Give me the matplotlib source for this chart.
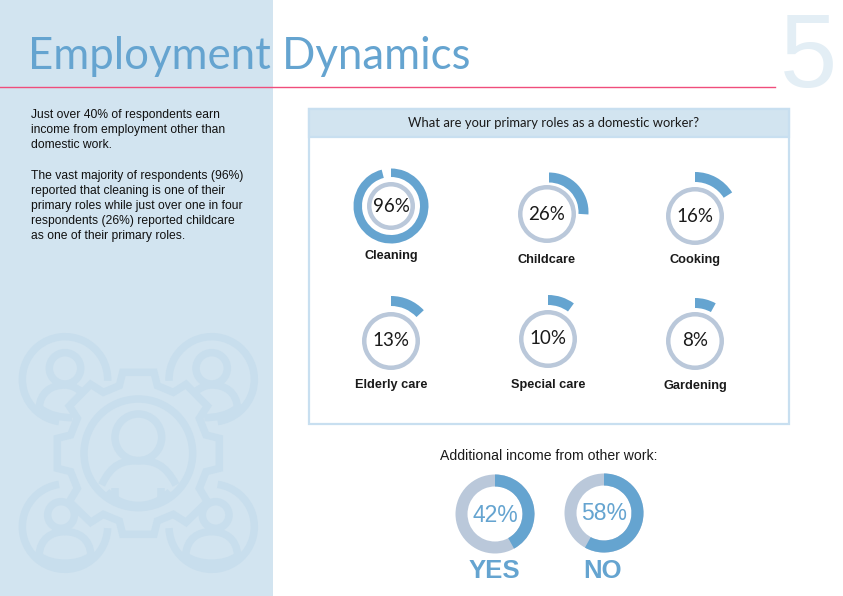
import matplotlib
matplotlib.use("Agg")
import matplotlib.pyplot as plt
from matplotlib.patches import Wedge, Rectangle, Circle, Arc, Polygon, PathPatch
from matplotlib.path import Path

role_labels = ["Cleaning", "Childcare", "Cooking", "Elderly care", "Special care", "Gardening"]
role_values = [96, 26, 16, 13, 10, 8]
income_labels = ["YES", "NO"]
income_values = [42, 58]
title_text = "Employment Dynamics"
page_number = "5"
panel_title = "What are your primary roles as a domestic worker?"
income_title = "Additional income from other work:"
body_text = ("Just over 40% of respondents earn\nincome from employment other than\ndomestic work.\n\n"
             "The vast majority of respondents (96%)\nreported that cleaning is one of their\n"
             "primary roles while just over one in four\nrespondents (26%) reported childcare\n"
             "as one of their primary roles.")

W, H = 843, 596
BLUE, GREY, PALE, ICON, FRAME = "#65a4d0", "#bac8da", "#d2e4f0", "#c8deed", "#c8dff0"
INK = "#1a1a1a"

fig = plt.figure(figsize=(W / 100, H / 100), dpi=100)
ax = fig.add_axes([0, 0, 1, 1])
ax.set_xlim(0, W)
ax.set_ylim(0, H)
ax.axis("off")

def Y(y):
    return H - y

def ring(x, y, r, w, color, z=3):
    ax.add_patch(Wedge((x, Y(y)), r, 0, 360, width=w, fc=color, ec="none", zorder=z))

def arc(x, y, r, w, value, color=BLUE, z=3):
    ax.add_patch(Wedge((x, Y(y)), r, 90 - 3.6 * value, 90, width=w, fc=color, ec="none", zorder=z))

# left panel
ax.add_patch(Rectangle((0, 0), 273, H, fc=PALE, ec="none", zorder=0))

# watermark icon, drawn in a 3x local grid
def ix(x): return x / 3
def iy(y): return Y(320 + y / 3)
LW = 5.4
def stroke(pts, closed=False):
    ax.add_patch(Polygon([(ix(a), iy(b)) for a, b in pts], closed=closed, fc="none", ec=ICON, lw=LW, zorder=1, joinstyle="miter"))
def circ(x, y, r):
    ax.add_patch(Circle((ix(x), iy(y)), r / 3, fc="none", ec=ICON, lw=LW, zorder=1))
def iarc(x, y, r, t1, t2):
    ax.add_patch(Arc((ix(x), iy(y)), 2 * r / 3, 2 * r / 3, theta1=t1, theta2=t2, ec=ICON, lw=LW, zorder=1))
def curve(p0, c1, c2, p1):
    verts = [(ix(a), iy(b)) for a, b in (p0, c1, c2, p1)]
    ax.add_patch(PathPatch(Path(verts, [Path.MOVETO, Path.CURVE4, Path.CURVE4, Path.CURVE4]), fc="none", ec=ICON, lw=LW, zorder=1))

stroke([(368,157),(462,157),(472,197),(520,217),(558,193),(622,258),(598,295),(618,345),(658,355),
        (658,445),(618,455),(598,505),(622,545),(558,607),(520,583),(472,603),(462,643),(368,643),
        (358,603),(310,583),(272,607),(208,545),(232,505),(212,455),(172,445),(172,355),(212,345),
        (232,295),(208,258),(272,193),(310,217),(358,197)], closed=True)
circ(415, 400, 163)
circ(415, 352, 70)
curve((305, 495), (335, 430), (370, 422), (415, 422))
curve((415, 422), (460, 422), (495, 430), (528, 495))
curve((320, 515), (370, 570), (460, 570), (510, 515))
stroke([(345, 505), (345, 548)])
stroke([(484, 505), (484, 548)])
iarc(195, 178, 128, -2, 262)
iarc(635, 178, 128, -82, 182)
iarc(195, 620, 128, 98, 358)
iarc(635, 620, 128, -178, 82)
# top people: the side towards the gear is cut short
for hx, s in [(195, 1), (635, -1)]:
    circ(hx, 145, 47)
    by = 195
    curve((hx - s * 78, by + 72), (hx - s * 75, by + 20), (hx - s * 40, by), (hx, by))
    curve((hx, by), (hx + s * 18, by), (hx + s * 32, by + 8), (hx + s * 45, by + 17))
    curve((hx - s * 72, by + 72), (hx - s * 45, by + 92), (hx - s * 10, by + 98), (hx + s * 22, by + 98))
# bottom people
for hx, cx in [(195, 183), (635, 647)]:
    by = 635
    circ(cx, 585, 40)
    curve((hx - 78, by + 72), (hx - 75, by + 20), (hx - 40, by), (hx, by))
    curve((hx, by), (hx + 40, by), (hx + 75, by + 20), (hx + 78, by + 72))
    curve((hx - 78, by + 72), (hx - 40, by + 102), (hx + 40, by + 102), (hx + 78, by + 72))

# header
ax.text(27.5, Y(69), title_text, family="Lato", fontsize=31.5, color=BLUE, va="baseline", ha="left", zorder=5)
ax.plot([0, 775], [Y(86.5), Y(86.5)], color="#f04d7c", lw=1.0, zorder=6)
ax.text(808, Y(87), page_number, family="Liberation Sans", fontsize=74, color="#e3eef5", ha="center", va="baseline", zorder=1)

ax.text(31, Y(109), body_text, family="Liberation Sans", fontsize=8.7, color="#111111", va="top", ha="left", linespacing=1.35, zorder=5)

# roles panel
ax.add_patch(Rectangle((309, Y(424)), 480, 315, fc="white", ec=FRAME, lw=1.6, zorder=2))
ax.add_patch(Rectangle((309, Y(137)), 480, 28, fc=PALE, ec=FRAME, lw=1.6, zorder=2))
ax.text(554, Y(123), panel_title, family="Lato", fontsize=9.35, color=INK, ha="center", va="center", zorder=5)

centers = [(391, 206), (547, 214), (695, 216), (391, 341), (548, 339), (695, 341)]
arc_r = [37.5, 39.5, 44, 45, 44, 43]
arc_c = [(391, 206), (549, 212), (695, 216), (391, 341), (548, 339), (695, 341)]
lab_y = [256, 260, 260, 385, 385, 386]
for i, (lab, v) in enumerate(zip(role_labels, role_values)):
    x, y = centers[i]
    gr = 24 if i == 0 else 29
    ring(x, y, gr, 4.5, GREY)
    arc(arc_c[i][0], arc_c[i][1], arc_r[i], 8.5 if i == 0 else 10, v)
    ax.text(x, Y(y), f"{v}%", family="Lato", fontsize=13.5, color=INK, ha="center", va="center", zorder=5)
    ax.text(x, Y(lab_y[i]), lab, family="Liberation Sans", fontweight="bold", fontsize=9.2, color=INK, ha="center", va="center", zorder=5)

# additional income
ax.text(549, Y(456), income_title, family="Liberation Sans", fontsize=10.1, color=INK, ha="center", va="center", zorder=5)
for x, y, lab, v in zip([495, 604], [514, 513], income_labels, income_values):
    ring(x, y, 39.5, 12, GREY)
    arc(x, y, 39.5, 12, v)
    ax.text(x, Y(y + 1), f"{v}%", family="Liberation Sans", fontsize=16.5, color=BLUE, ha="center", va="center", zorder=5)
    ax.text(x - 1, Y(571), lab, family="Liberation Sans", fontweight="bold", fontsize=18.5, color=BLUE, ha="center", va="center", zorder=5)

fig.savefig("out.png", dpi=100, facecolor="white")
